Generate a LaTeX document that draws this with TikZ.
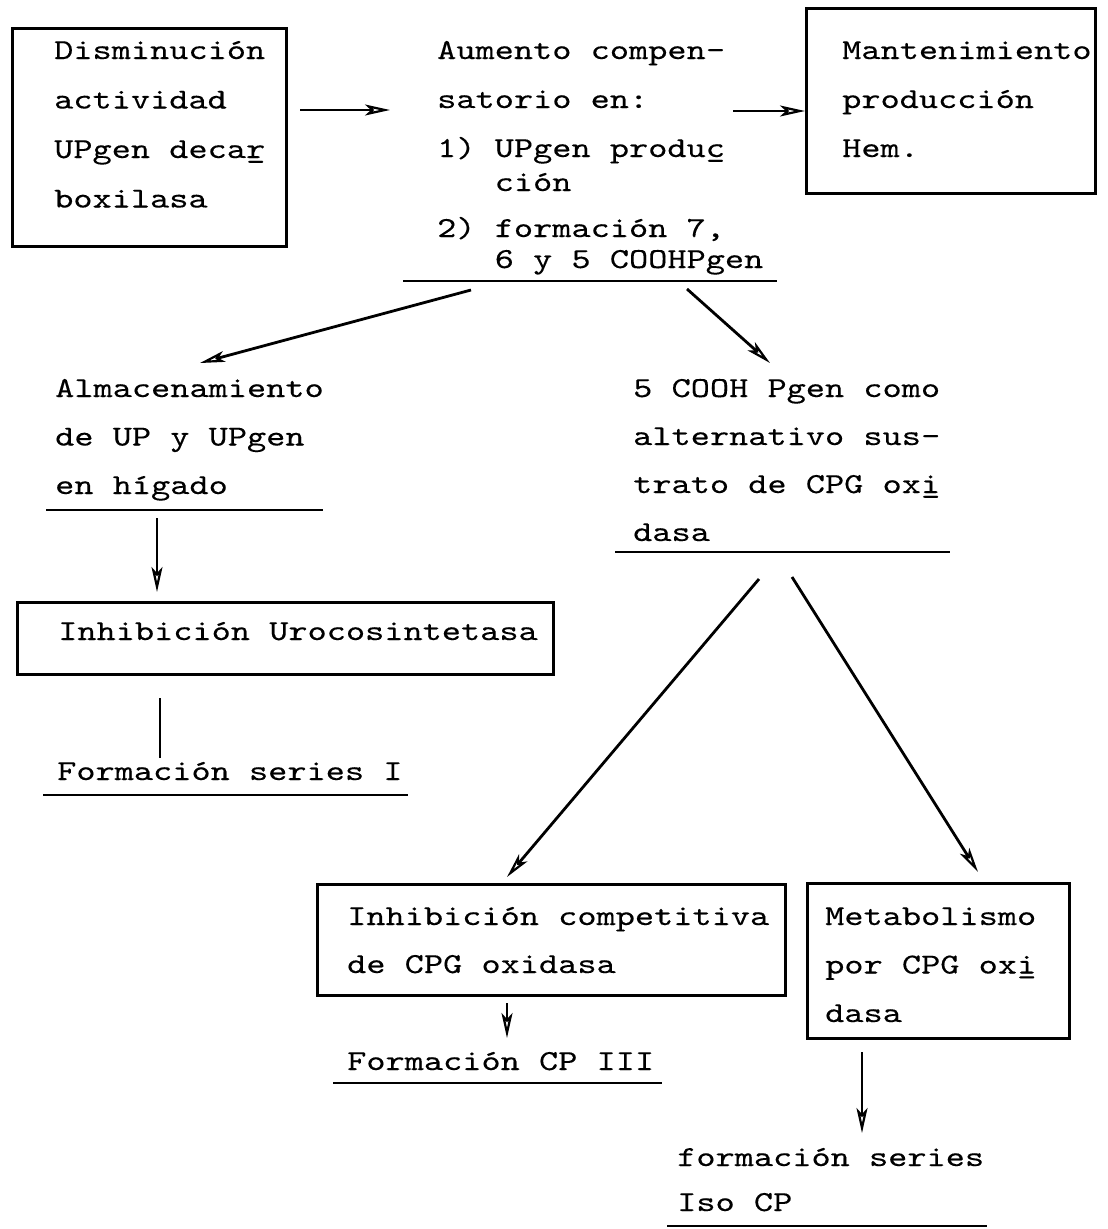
\documentclass[tikz,border=0pt]{standalone}
\usepackage{fontspec}
\usepackage{array}
\usepackage{graphicx}
\usetikzlibrary{arrows.meta,calc}
\newfontfamily\twfont{lmmono10-regular.otf}[FakeBold=0.2]
\newcommand\blk[1]{\scalebox{1.26}[1]{\begin{tabular}[t]{@{}l@{}}#1\end{tabular}}}
\newcommand\us[1]{\rlap{\char"5F}#1}
\newcommand\tw[1]{\fontsize{29}{#1}\selectfont\twfont}
\begin{document}
\begin{tikzpicture}[x=1pt,y=-1pt,
  box/.style={draw, line width=3pt, anchor=north west, inner sep=0pt},
  txt/.style={anchor=base west, inner sep=0pt},
  arr/.style={line width=2.8pt, -{Stealth[open, length=25pt, width=11pt, inset=6pt, line width=2.2pt]}},
  conn/.style={line width=2.8pt},
  uline/.style={line width=2.5pt}]
\useasboundingbox (0,0) rectangle (1108,1229);

% top row
\node[box, minimum width=274pt, minimum height=218pt] (b1) at (11,27) {};
\node[txt, font=\tw{49.5}] (t1) at (54,59) {\blk{Disminución\\actividad\\UPgen deca\us{r}\\boxilasa}};

\node[txt, font=\tw{49}] (t2) at (437,59) {\blk{Aumento compen-\\satorio en:\\1) UPgen produ\us{c}\\[-15pt]\hphantom{1)}\ ción\\[-3pt]2) formación 7,\\[-18pt]\hphantom{2)}\ 6 y 5 COOHPgen}};
\draw[uline] (403,281) -- (777,281);

\node[box, minimum width=289pt, minimum height=185pt] (b3) at (805,7) {};
\node[txt, font=\tw{49}] (t3) at (842,59) {\blk{Mantenimiento\\producción\\Hem.}};

\coordinate (a1s) at (300,110);
\coordinate (a1e) at (390,110);
\draw[arr] (a1s) -- (a1e);
\coordinate (a2s) at (733,111);
\draw[arr] (a2s) -- (a2s -| b3.west);

% second level
\coordinate (a3s) at (471,290);
\coordinate (a3e) at (200,363);
\draw[arr] (a3s) -- (a3e);
\coordinate (a4s) at (687,289);
\coordinate (a4e) at (770,363);
\draw[arr] (a4s) -- (a4e);

\node[txt, font=\tw{48.5}] (t4) at (55,397) {\blk{Almacenamiento\\de UP y UPgen\\en hígado}};
\draw[uline] (46,510) -- (323,510);

\coordinate (a5s) at (157,518);
\coordinate (a5e) at (157,592);
\draw[arr] (a5s) -- (a5e);

\node[box, minimum width=536pt, minimum height=72pt] (b5) at (16,601) {};
\node[txt, font=\tw{48}] (t5) at (58,640) {\blk{Inhibición Urocosintetasa}};

\coordinate (l6s) at (160,698);
\coordinate (l6e) at (160,758);
\draw[conn] (l6s) -- (l6e);
\node[txt, font=\tw{48}] (t6) at (57,780) {\blk{Formación series I}};
\draw[uline] (43,795) -- (408,795);

\node[txt, font=\tw{48}] (t7) at (633,397) {\blk{5 COOH Pgen como\\alternativo sus-\\trato de CPG ox\us{i}\\dasa}};
\draw[uline] (615,552) -- (950,552);

% third level
\coordinate (a7s) at (759,579);
\coordinate (a7e) at (507,877);
\draw[arr] (a7s) -- (a7e);
\coordinate (a8s) at (792,577);
\coordinate (a8e) at (978,872);
\draw[arr] (a8s) -- (a8e);

\node[box, minimum width=468pt, minimum height=111pt] (b9) at (316,883) {};
\node[txt, font=\tw{48}] (t9) at (347,925) {\blk{Inhibición competitiva\\de CPG oxidasa}};

\node[box, minimum width=262pt, minimum height=155pt] (b10) at (806,882) {};
\node[txt, font=\tw{48.5}] (t10) at (825,925) {\blk{Metabolismo\\por CPG ox\us{i}\\dasa}};

\coordinate (a11s) at (507,1003);
\coordinate (a11e) at (507,1038);
\draw[arr] (a11s) -- (a11e);
\node[txt, font=\tw{48}] (t11) at (347,1070) {\blk{Formación CP III}};
\draw[uline] (333,1083) -- (662,1083);

\coordinate (a12s) at (862,1052);
\coordinate (a12e) at (862,1133);
\draw[arr] (a12s) -- (a12e);
\node[txt, font=\tw{45}] (t12) at (677,1166) {\blk{formación series\\Iso CP}};
\draw[uline] (667,1226) -- (987,1226);
\end{tikzpicture}
\end{document}
